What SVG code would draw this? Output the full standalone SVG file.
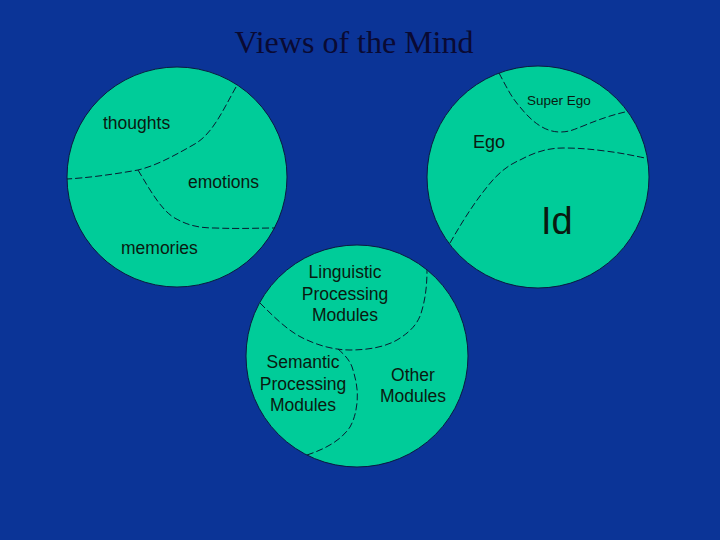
<svg xmlns="http://www.w3.org/2000/svg" width="720" height="540" viewBox="0 0 720 540">
<style>
.c{fill:#00cc99;stroke:#0a1a40;stroke-width:1}
.d{fill:none;stroke:#0a1a30;stroke-width:1;stroke-dasharray:7,3}
.t{font-family:"Liberation Sans",Arial,sans-serif;fill:#0a1a10}
</style>
<rect x="0" y="0" width="720" height="540" fill="#0b3497"/>
<text x="354" y="53" text-anchor="middle" font-family="'Liberation Serif','Times New Roman',serif" font-size="32" fill="#0a0a33">Views of the Mind</text>
<g id="mind-left">
<circle class="c" cx="177" cy="177" r="110"/>
<text class="t" x="103" y="129" font-size="17.5">thoughts</text>
<text class="t" x="188" y="188" font-size="17.5">emotions</text>
<text class="t" x="121" y="254" font-size="17.5">memories</text>
</g>
<g id="mind-right">
<circle class="c" cx="538" cy="177" r="111"/>
<text class="t" x="527" y="105" font-size="13.5">Super Ego</text>
<text class="t" x="473" y="148" font-size="18">Ego</text>
<text class="t" x="541" y="234" font-size="38">Id</text>
</g>
<g id="mind-bottom">
<circle class="c" cx="357" cy="356" r="111"/>
<text class="t" font-size="17.5" text-anchor="middle"><tspan x="345" y="278">Linguistic</tspan><tspan x="345" y="300">Processing</tspan><tspan x="345" y="321">Modules</tspan></text>
<text class="t" font-size="17.5" text-anchor="middle"><tspan x="303" y="368">Semantic</tspan><tspan x="303" y="390">Processing</tspan><tspan x="303" y="411">Modules</tspan></text>
<text class="t" font-size="17.5" text-anchor="middle"><tspan x="413" y="381">Other</tspan><tspan x="413" y="402">Modules</tspan></text>
</g>
<g id="connectors">
<path class="d" d="M236,87 C222,112 212,135 193,145 C172,157 155,166 138,170 C110,175 85,178 67,179"/>
<path class="d" d="M138,170 C150,190 160,208 173,217 C188,226 200,228 215,228 C240,229 258,228 275,228"/>
<path class="d" d="M499,73 C508,90 512,98 520,107 C532,122 545,132 560,132 C570,132 575,129 583,126 C600,119 612,115 625,112"/>
<path class="d" d="M450,243 C462,222 474,203 487,187 C497,174 508,165 520,160 C535,152 548,148 563,148 C578,148 590,149 605,151 C622,153 635,156 645,158"/>
<path class="d" d="M260,303 C275,318 290,333 307,340 C320,346 335,350 350,350 C368,350 385,347 397,340 C412,331 419,322 422,310 C426,296 427,283 427,270"/>
<path class="d" d="M338,349 C346,356 351,362 353,370 C357,383 358,393 357,403 C356,412 354,420 350,427 C340,442 322,450 307,455"/>
</g>
</svg>
